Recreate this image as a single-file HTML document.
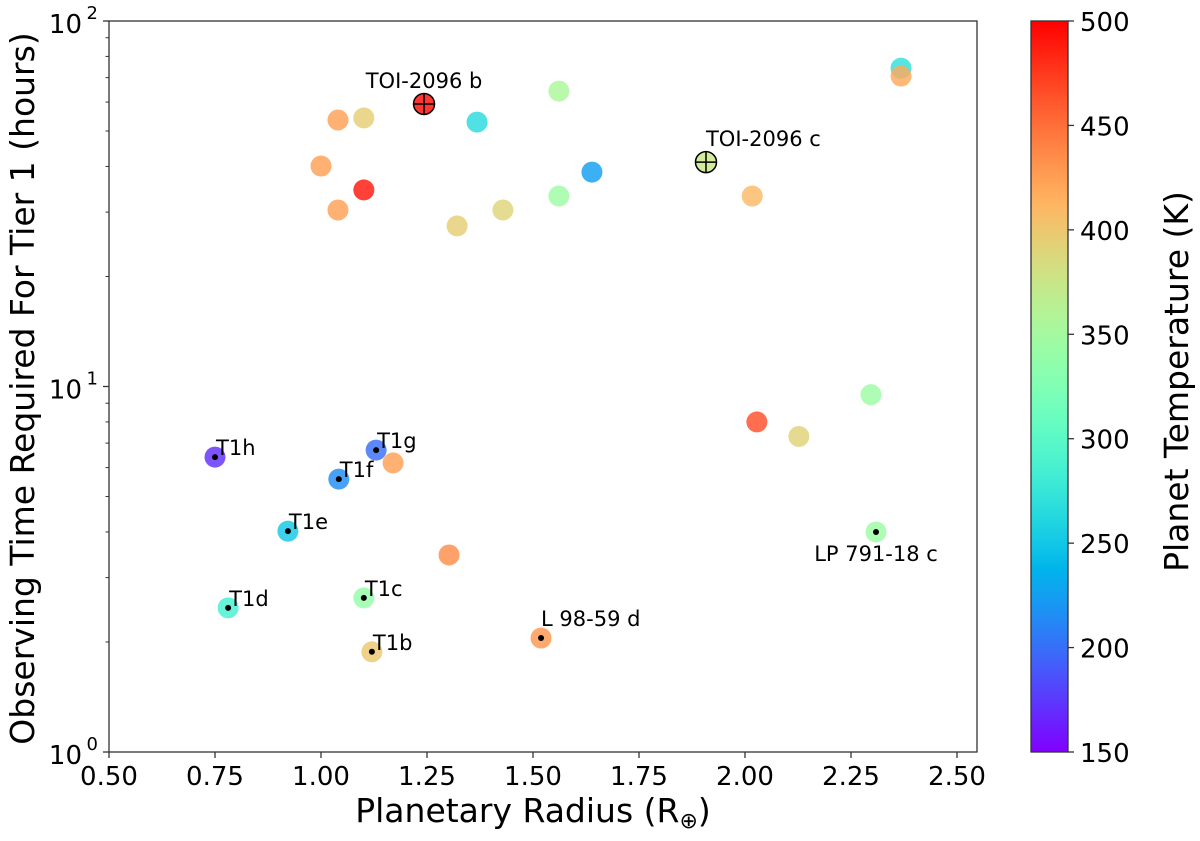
<!DOCTYPE html>
<html><head><meta charset="utf-8"><style>
html,body{margin:0;padding:0;background:#fff;width:1200px;height:841px;overflow:hidden}
svg text{font-family:"DejaVu Sans","Liberation Sans",sans-serif;fill:#000}
</style></head><body>
<svg id="chart" width="1200" height="841" viewBox="0 0 1200 841" xmlns="http://www.w3.org/2000/svg"></svg>
<script>
const radius = [1.243,1.040,1.101,1.561,1.368,1.000,1.101,1.040,1.321,1.429,1.561,1.639,1.908,2.017,2.368,2.368,2.297,2.028,2.127,2.309,1.302,1.519,1.120,1.101,0.781,0.922,1.042,1.130,0.750,1.170];
const hours = [59.3,53.6,54.3,64.3,52.9,40.1,34.5,30.4,27.5,30.4,33.2,38.6,41.1,33.2,74.3,70.7,9.5,8.0,7.3,4.0,3.46,2.05,1.88,2.64,2.48,4.02,5.58,6.7,6.41,6.18];
const temps = [495,425,395,355,265,425,490,425,395,390,345,225,375,410,270,420,345,465,392,345,435,430,400,340,285,250,215,200,170,425];
const labels = ["TOI-2096 b","","","","","","","","","","","","TOI-2096 c","","","","","","","LP 791-18 c","","L 98-59 d","T1b","T1c","T1d","T1e","T1f","T1g","T1h",""];
const markType = ["plus","","","","","","","","","","","","plus","","","","","","","dot","","dot","dot","dot","dot","dot","dot","dot","dot",""];
const xTicks = [0.5,0.75,1.0,1.25,1.5,1.75,2.0,2.25,2.5];
const xTickLabels = ["0.50","0.75","1.00","1.25","1.50","1.75","2.00","2.25","2.50"];
const cbTicks = [150,200,250,300,350,400,450,500];

const NS="http://www.w3.org/2000/svg", svg=document.getElementById('chart');
const L=109,R=977,T=21,B=752;
const sx=v=>L+(v-0.5)*424;
const sy=v=>T+(2-Math.log10(v))*365.5;
function rainbow(t){t=Math.max(0,Math.min(1,t));
 const r=Math.min(1,Math.abs(2*t-0.5)),g=Math.sin(Math.PI*t),b=Math.cos(Math.PI*t/2);
 return `rgb(${Math.round(r*255)},${Math.round(g*255)},${Math.round(b*255)})`;}
const ct=v=>(v-150)/350;
function el(tag,attrs,parent){const e=document.createElementNS(NS,tag);for(const k in attrs)e.setAttribute(k,attrs[k]);(parent||svg).appendChild(e);return e;}

const defs=el('defs',{});
const grad=el('linearGradient',{id:'cbg',x1:0,y1:1,x2:0,y2:0},defs);
for(let i=0;i<=40;i++){el('stop',{offset:i/40,'stop-color':rainbow(i/40)},grad);}

const pts=el('g',{});


for(let i=0;i<radius.length;i++){
 const cx=sx(radius[i]),cy=sy(hours[i]);
 const c=el('circle',{cx:cx,cy:cy,r:10.5,fill:rainbow(ct(temps[i])),'fill-opacity':0.82},pts);
 
 
 if(markType[i]==='plus'){
  el('circle',{cx:cx,cy:cy,r:10.5,fill:'none',stroke:'#000','stroke-width':1.5},pts);
  el('line',{x1:cx-10.5,y1:cy,x2:cx+10.5,y2:cy,stroke:'#000','stroke-width':1.5},pts);
  el('line',{x1:cx,y1:cy-10.5,x2:cx,y2:cy+10.5,stroke:'#000','stroke-width':1.5},pts);
 } else if(markType[i]==='dot'){
  el('circle',{cx:cx,cy:cy,r:3,fill:'#000'},pts);
 }
 if(labels[i]){
  let tx=cx+1,ty=cy-2,anchor='start';
  if(markType[i]==='plus'){tx=cx;ty=cy-16;anchor='middle';if(i===12){tx=cx;anchor='start';}}
  if(labels[i]==='LP 791-18 c'){tx=cx;ty=cy+29;anchor='middle';}
  if(labels[i]==='L 98-59 d'){tx=cx;ty=cy-12;anchor='start';}
  const t=el('text',{x:tx,y:ty,'font-size':21,'text-anchor':anchor},pts);
  t.textContent=labels[i];
  
  
 }
}

const frame=el('rect',{x:L,y:T,width:R-L,height:B-T,fill:'none',stroke:'#333','stroke-width':1.3});



xTicks.forEach((v,i)=>{const x=sx(v);
 el('line',{x1:x,y1:B,x2:x,y2:B+6,stroke:'#333','stroke-width':1.3});
 const t=el('text',{x:x,y:B+33,'font-size':26,'text-anchor':'middle'});t.textContent=xTickLabels[i];
 
 
});
[1,10,100].forEach((v,i)=>{const y=sy(v);
 el('line',{x1:L-6,y1:y,x2:L,y2:y,stroke:'#333','stroke-width':1.3});
 const t=el('text',{x:L-27,y:y+12,'font-size':26,'text-anchor':'end'});t.textContent='10';
 
 
 const s=el('text',{x:L-11,y:y-2,'font-size':18,'text-anchor':'end'});s.textContent=String(i);
});
for(let d=0;d<2;d++)for(let m=2;m<10;m++){const y=sy(m*Math.pow(10,d));
 el('line',{x1:L-3.5,y1:y,x2:L,y2:y,stroke:'#333','stroke-width':1});}

const xl=el('text',{x:(L+R)/2-10,y:822,'font-size':33,'text-anchor':'middle'});
xl.innerHTML='Planetary Radius (R<tspan font-size="22" dy="6">⊕</tspan><tspan dy="-6">)</tspan>';


const yl=el('text',{x:0,y:0,'font-size':33,'text-anchor':'middle',transform:`translate(34,${(T+B)/2+2}) rotate(-90)`});
yl.textContent='Observing Time Required For Tier 1 (hours)';



const CL=1031,CR=1068;
const cb=el('rect',{x:CL,y:T,width:CR-CL,height:B-T,fill:'url(#cbg)',stroke:'#333','stroke-width':1.3});


const cy=v=>B-(v-150)/350*(B-T);
cbTicks.forEach(v=>{const y=cy(v);
 el('line',{x1:CR,y1:y,x2:CR+6,y2:y,stroke:'#333','stroke-width':1.3});
 const t=el('text',{x:CR+12,y:y+10,'font-size':26});t.textContent=String(v);
 
 
});
const cl=el('text',{x:0,y:0,'font-size':33,'text-anchor':'middle',transform:`translate(1188,${(T+B)/2-5}) rotate(-90)`});
cl.textContent='Planet Temperature (K)';


</script>
</body></html>
